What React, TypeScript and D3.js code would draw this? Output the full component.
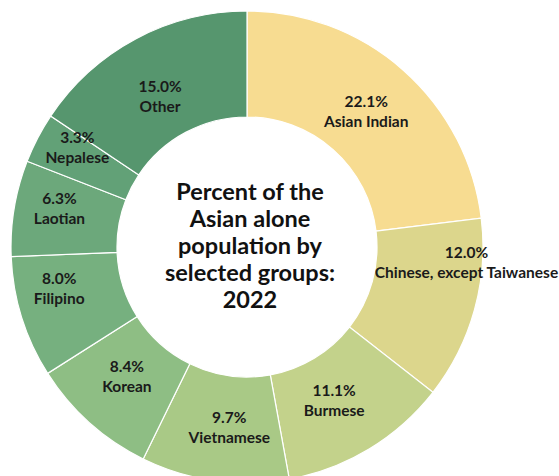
import React, { useEffect, useRef } from "react";
import * as d3 from "d3";

const groups = [
  "Asian Indian",
  "Chinese, except Taiwanese",
  "Burmese",
  "Vietnamese",
  "Korean",
  "Filipino",
  "Laotian",
  "Nepalese",
  "Other",
];
const percents = [22.1, 12.0, 11.1, 9.7, 8.4, 8.0, 6.3, 3.3, 15.0];
const colors = [
  "#F7DC91",
  "#DCD68C",
  "#C3D28B",
  "#A9C986",
  "#8EBE84",
  "#76B07F",
  "#6CA87B",
  "#62A177",
  "#56966E",
];
const titleLines = ["Percent of the", "Asian alone", "population by", "selected groups:", "2022"];

// layout tweaks (pixel nudges for label placement like the original tool)
const labelNudge: Record<string, [number, number]> = {
  "Chinese, except Taiwanese": [46, -32],
  Filipino: [-16, -12],
  Laotian: [-10, -8],
  Nepalese: [-10, -16],
  Vietnamese: [7, 3],
  Burmese: [-6, 0],
  Korean: [0, -4],
  Other: [-2, 9],
};

const W = 559;
const H = 476;

export default function App() {
  const ref = useRef<SVGSVGElement>(null);
  useEffect(() => {
    const svg = d3.select(ref.current);
    svg.selectAll("*").remove();
    const cx = 247;
    const cy = 247;
    const R = 236;
    const r0 = 130;
    const data = groups.map((g, i) => ({ g, v: percents[i], c: colors[i] }));
    const pie = d3.pie<any>().value((d) => d.v).sort(null);
    const arcs = pie(data);
    const arc = d3.arc<any>().innerRadius(r0).outerRadius(R);
    const g = svg.append("g").attr("transform", `translate(${cx},${cy})`);
    g.selectAll("path")
      .data(arcs)
      .join("path")
      .attr("d", arc as any)
      .attr("fill", (d: any) => d.data.c)
      .attr("stroke", "#ffffff")
      .attr("stroke-width", 1.2);

    const lab = d3.arc<any>().innerRadius(180).outerRadius(180);
    const lg = g
      .selectAll("g.lab")
      .data(arcs)
      .join("g")
      .attr("class", "lab")
      .attr("transform", (d: any) => {
        const [x, y] = lab.centroid(d);
        const n = labelNudge[d.data.g] || [0, 0];
        return `translate(${x + n[0]},${y + n[1]})`;
      });
    lg.append("text")
      .attr("text-anchor", "middle")
      .attr("y", -5)
      .attr("font-family", "Lato, 'Open Sans', sans-serif")
      .attr("font-weight", 700)
      .attr("font-size", 15.5)
      .attr("fill", "#1a1a1a")
      .text((d: any) => d.data.v.toFixed(1) + "%");
    lg.append("text")
      .attr("text-anchor", "middle")
      .attr("y", 15)
      .attr("font-family", "Lato, 'Open Sans', sans-serif")
      .attr("font-weight", 700)
      .attr("font-size", 15.5)
      .attr("fill", "#1a1a1a")
      .text((d: any) => d.data.g);

    const t = svg
      .append("text")
      .attr("text-anchor", "middle")
      .attr("font-family", "Lato, 'Open Sans', sans-serif")
      .attr("font-weight", 700)
      .attr("font-size", 23.5)
      .attr("fill", "#111111");
    titleLines.forEach((line, i) => {
      t.append("tspan")
        .attr("x", cx + 3)
        .attr("y", 200 + i * 27)
        .text(line);
    });
  }, []);
  return (
    <div style={{ position: "fixed", left: 0, top: 0, width: W, height: H, background: "#fff" }}>
      <svg ref={ref} width={W} height={H} style={{ display: "block" }} />
    </div>
  );
}
